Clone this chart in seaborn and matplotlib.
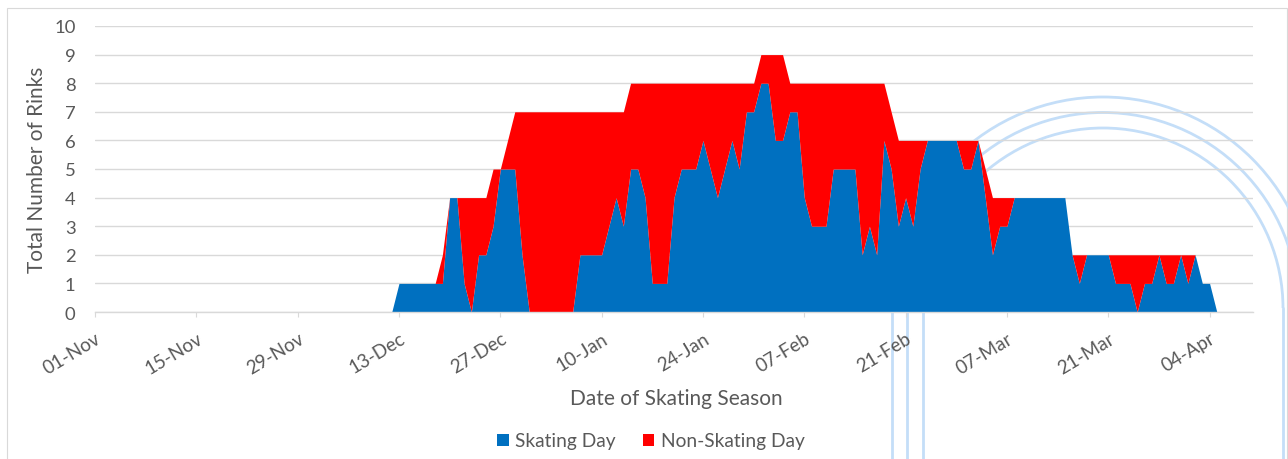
import pandas as pd
import matplotlib
matplotlib.use("Agg")
import matplotlib.pyplot as plt
import matplotlib.dates as mdates
from matplotlib.patches import Arc, Rectangle
from matplotlib.lines import Line2D
import seaborn as sns

# season axis and the first day that has data
season_start = "2018-11-01"
season_end = "2019-04-10"
first_day = "2018-12-12"
tick_dates = pd.date_range("2018-11-01", "2019-04-04", freq="14D")

# number of rinks per day, 12-Dec to 05-Apr
skating_day = [
    0, 1, 1, 1, 1, 1, 1, 1, 4, 4,
    1, 0, 2, 2, 3, 5, 5, 5, 2, 0,
    0, 0, 0, 0, 0, 0, 2, 2, 2, 2,
    3, 4, 3, 5, 5, 4, 1, 1, 1, 4,
    5, 5, 5, 6, 5, 4, 5, 6, 5, 7,
    7, 8, 8, 6, 6, 7, 7, 4, 3, 3,
    3, 5, 5, 5, 5, 2, 3, 2, 6, 5,
    3, 4, 3, 5, 6, 6, 6, 6, 6, 5,
    5, 6, 4, 2, 3, 3, 4, 4, 4, 4,
    4, 4, 4, 4, 2, 1, 2, 2, 2, 2,
    1, 1, 1, 0, 1, 1, 2, 1, 1, 2,
    1, 2, 1, 1, 0,
]
non_skating_day = [
    0, 0, 0, 0, 0, 0, 0, 1, 0, 0,
    3, 4, 2, 2, 2, 0, 1, 2, 5, 7,
    7, 7, 7, 7, 7, 7, 5, 5, 5, 5,
    4, 3, 4, 3, 3, 4, 7, 7, 7, 4,
    3, 3, 3, 2, 3, 4, 3, 2, 3, 1,
    1, 1, 1, 3, 3, 1, 1, 4, 5, 5,
    5, 3, 3, 3, 3, 6, 5, 6, 2, 2,
    3, 2, 3, 1, 0, 0, 0, 0, 0, 1,
    1, 0, 1, 2, 1, 1, 0, 0, 0, 0,
    0, 0, 0, 0, 0, 1, 0, 0, 0, 0,
    1, 1, 1, 2, 1, 1, 0, 1, 1, 0,
    1, 0, 0, 0, 0,
]

df = pd.DataFrame({
    "date": pd.date_range(first_day, periods=len(skating_day), freq="D"),
    "Skating Day": skating_day,
    "Non-Skating Day": non_skating_day,
})

sns.set_theme(style="white")
plt.rcParams["font.family"] = ["Lato", "DejaVu Sans"]
text_grey = "#595959"
grid_grey = "#D9D9D9"
arc_blue = "#C4DEF8"

fig = plt.figure(figsize=(12.88, 4.60), dpi=100)
fig.patch.set_facecolor("white")

# faint rink outline behind the chart
cx, cy = 11.03, 1.51
for r in [1.80, 1.955, 2.11]:
    fig.add_artist(Arc((cx, cy), 2 * r, 2 * r, theta1=0, theta2=180,
                       transform=fig.dpi_scale_trans, color=arc_blue, lw=2.0, zorder=-1))
    for xl in [cx - r, cx + r]:
        fig.add_artist(Line2D([xl, xl], [cy, -0.1], transform=fig.dpi_scale_trans,
                              color=arc_blue, lw=2.0, zorder=-1))
fig.add_artist(Rectangle((0.07, -0.1), 12.8, 4.61, fill=False, edgecolor=grid_grey,
                         lw=0.8, transform=fig.dpi_scale_trans, zorder=-2))

ax = fig.add_axes([95 / 1288, 147 / 460, 1158 / 1288, 286 / 460])
ax.set_facecolor("none")

ax.stackplot(df["date"].to_numpy(), df["Skating Day"], df["Non-Skating Day"],
             colors=["#0070C0", "#FF0000"], linewidth=0,
             labels=["Skating Day", "Non-Skating Day"])

ax.set_xlim(pd.Timestamp(season_start), pd.Timestamp(season_end))
ax.set_ylim(0, 10)
ax.set_yticks(range(0, 11))
ax.grid(axis="y", color=grid_grey, lw=1.0)
ax.grid(axis="x", visible=False)
ax.set_axisbelow(True)

for side in ["top", "right", "left"]:
    ax.spines[side].set_visible(False)
ax.spines["bottom"].set_color(grid_grey)
ax.spines["bottom"].set_linewidth(1.0)

ax.set_xticks(tick_dates)
ax.xaxis.set_major_formatter(mdates.DateFormatter("%d-%b"))
ax.tick_params(axis="x", bottom=True, length=3.6, width=0.8, color=grid_grey,
               pad=9, labelsize=13.5, labelcolor=text_grey)
ax.tick_params(axis="y", left=False, length=0, pad=14, labelsize=13.3, labelcolor=text_grey)
for lab in ax.get_xticklabels():
    lab.set_rotation(31)
    lab.set_ha("right")
    lab.set_va("top")
    lab.set_rotation_mode("anchor")

ax.set_xlabel("Date of Skating Season", fontsize=15, color=text_grey)
ax.xaxis.set_label_coords(0.502, -0.30)
ax.xaxis.label.set_va("center")
ax.set_ylabel("Total Number of Rinks", fontsize=15, color=text_grey)
ax.yaxis.set_label_coords(-0.05, 0.5)
ax.yaxis.label.set_va("center")

handles, labels = ax.get_legend_handles_labels()
fig.legend(handles, labels, loc="center", bbox_to_anchor=(651 / 1288, 1 - 442 / 460),
           ncol=2, frameon=False, fontsize=13.8, handlelength=0.6, handleheight=0.6,
           handletextpad=0.35, columnspacing=1.4, labelcolor=text_grey)

fig.savefig("out.png", dpi=100)
